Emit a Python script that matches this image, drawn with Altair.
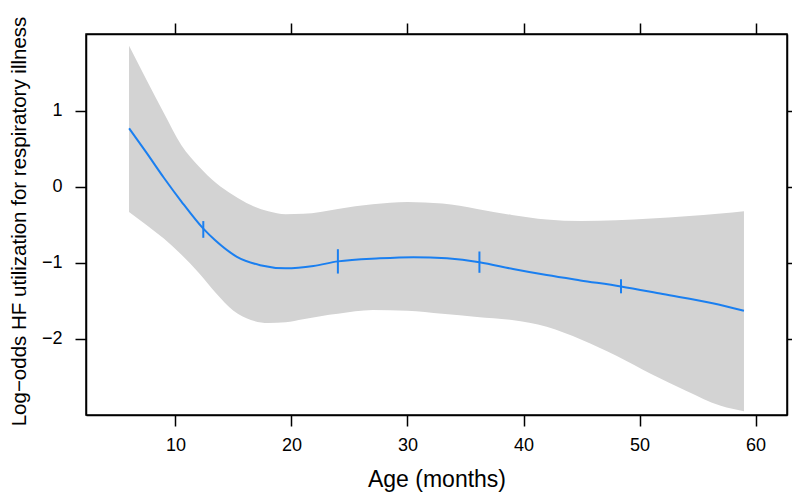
import altair as alt
import pandas as pd

# fitted curve (age in months, log-odds)
fit_age = [6, 7.5, 9, 10.5, 12.4, 13.4, 15.3, 17.3, 19.5, 21.9, 24, 27.6, 30.5,
           33.4, 36.2, 39.1, 42, 44.9, 48.4, 52, 56.3, 59]
fit_val = [0.77, 0.45, 0.12, -0.19, -0.55, -0.70, -0.92, -1.03, -1.07, -1.04, -0.98,
           -0.94, -0.925, -0.94, -0.99, -1.08, -1.16, -1.23, -1.31, -1.41, -1.53, -1.63]

# confidence band
band_age = [6, 7.5, 9, 10.5, 12, 13.5, 15, 16.5, 18, 19.5, 21, 22.5, 24, 27, 30,
            33, 36, 39, 42, 45, 48, 51, 54, 57, 59]
band_hi = [1.855, 1.41, 0.97, 0.55, 0.27, 0.05, -0.11, -0.24, -0.32, -0.36, -0.355,
           -0.33, -0.29, -0.23, -0.20, -0.22, -0.29, -0.37, -0.43, -0.45, -0.44,
           -0.415, -0.385, -0.35, -0.32]
band_lo = [-0.33, -0.50, -0.68, -0.89, -1.13, -1.40, -1.63, -1.75, -1.79, -1.78,
           -1.74, -1.70, -1.67, -1.62, -1.63, -1.67, -1.71, -1.75, -1.84, -2.01,
           -2.22, -2.46, -2.68, -2.88, -2.95]

# short vertical marks on the curve
tick_age = [12.4, 24, 36.2, 48.4]
tick_lo = [-0.67, -1.14, -1.13, -1.40]
tick_hi = [-0.45, -0.82, -0.85, -1.215]

x_ticks = [10, 20, 30, 40, 50, 60]
y_ticks = [-2, -1, 0, 1]

FONT = "Liberation Sans"
LINE = "#1a7ff0"

fit_df = pd.DataFrame({"age": fit_age, "val": fit_val})
band_df = pd.DataFrame({"age": band_age, "lo": band_lo, "hi": band_hi})
tick_df = pd.DataFrame({"age": tick_age, "lo": tick_lo, "hi": tick_hi})

xs = alt.Scale(domain=[2.29, 62.71], nice=False, zero=False)
ys = alt.Scale(domain=[-3.0, 2.01], nice=False, zero=False)

common = dict(grid=False, tickSize=11, tickWidth=1.5, tickColor="black",
              domainColor="black", domainWidth=1.5, labelFont=FONT,
              labelFontSize=18, labelColor="black", labelFlush=False,
              titleFont=FONT, titleFontWeight="normal", titleColor="black")

x_axis = alt.Axis(values=x_ticks, title="Age (months)", labelPadding=10,
                  titleFontSize=23, titleX=350.5, titleY=71,
                  titleBaseline="alphabetic", titleAlign="center", **common)
y_axis = alt.Axis(values=y_ticks, title="Log−odds HF utilization for respiratory illness",
                  labelPadding=13, titleFontSize=20.5, titleX=-61, titleY=187,
                  titleAngle=270, titleAlign="center", titleBaseline="alphabetic",
                  **common)
x_top = alt.Axis(values=x_ticks, orient="top", labels=False, title=None, **common)
y_right = alt.Axis(values=y_ticks, orient="right", labels=False, title=None, **common)

band = alt.Chart(band_df).mark_area(color="#d3d3d3", interpolate="monotone").encode(
    x=alt.X("age:Q", scale=xs, axis=x_axis),
    y=alt.Y("lo:Q", scale=ys, axis=y_axis),
    y2="hi:Q",
)
line = alt.Chart(fit_df).mark_line(color=LINE, strokeWidth=2, interpolate="monotone").encode(
    x=alt.X("age:Q", scale=xs, axis=x_axis),
    y=alt.Y("val:Q", scale=ys, axis=y_axis),
)
ticks = alt.Chart(tick_df).mark_rule(color=LINE, strokeWidth=2).encode(
    x=alt.X("age:Q", scale=xs, axis=x_axis),
    y=alt.Y("lo:Q", scale=ys, axis=y_axis),
    y2="hi:Q",
)
frame = alt.Chart(tick_df).mark_point(opacity=0).encode(
    x=alt.X("age:Q", scale=xs, axis=x_top),
    y=alt.Y("lo:Q", scale=ys, axis=y_right),
)

chart = alt.layer(alt.layer(band, line, ticks), frame).resolve_scale(
    x="independent", y="independent"
).properties(
    width=701, height=381,
    autosize=alt.AutoSizeParams(type="none"),
    padding={"left": 78, "top": 26, "right": 5, "bottom": 78},
    background="white",
).configure_view(stroke="black", strokeWidth=1.5)

chart.save("out.html", embed_options={"renderer": "svg", "actions": False})
